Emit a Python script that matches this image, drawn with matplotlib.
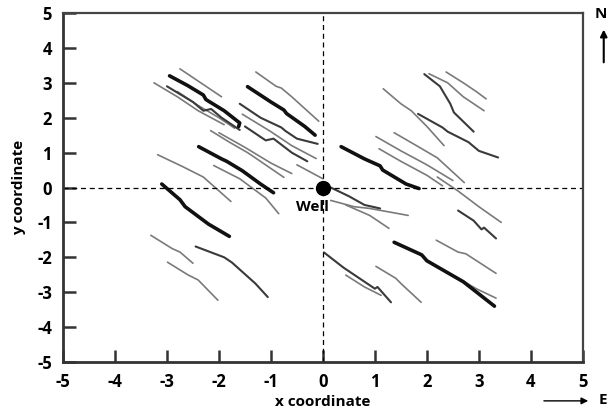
import matplotlib
matplotlib.use("Agg")
import numpy as np
from matplotlib import pyplot as plt

plt.rcParams['font.family'] = ['Open Sans', 'DejaVu Sans']
plt.rcParams['font.weight'] = 'bold'
plt.rcParams['axes.unicode_minus'] = False

# particle tracks (x, y), grouped by how dark they are
thick_tracks = [
    [(-2.95, 3.2), (-2.6, 2.92), (-2.3, 2.65), (-2.25, 2.52), (-1.9, 2.2), (-1.6, 1.85), (-1.62, 1.75)],
    [(-1.45, 2.89), (-1.0, 2.45), (-0.75, 2.22), (-0.7, 2.12), (-0.35, 1.75), (-0.15, 1.5)],
    [(-2.39, 1.17), (-1.95, 0.82), (-1.85, 0.75), (-1.55, 0.48), (-1.2, 0.1), (-0.95, -0.15)],
    [(-3.1, 0.1), (-2.75, -0.35), (-2.65, -0.55), (-2.2, -1.05), (-1.8, -1.4)],
    [(0.35, 1.17), (0.8, 0.82), (1.1, 0.62), (1.15, 0.5), (1.6, 0.1), (1.85, -0.03)],
    [(1.37, -1.57), (1.9, -1.93), (2.0, -2.1), (2.7, -2.7), (3.3, -3.4)],
]

dark_tracks = [
    [(-3.0, 2.9), (-2.5, 2.45), (-2.3, 2.2), (-2.15, 2.25), (-1.95, 2.0), (-1.6, 1.65)],
    [(-1.6, 2.4), (-1.2, 2.0), (-0.8, 1.72), (-0.72, 1.62), (-0.5, 1.4), (-0.1, 1.25)],
    [(-1.5, 1.75), (-1.1, 1.35), (-0.95, 1.4), (-0.6, 1.0), (-0.3, 0.75)],
    [(1.83, 2.11), (2.3, 1.72), (2.4, 1.6), (2.8, 1.3), (3.0, 1.05), (3.37, 0.86)],
    [(1.95, 3.25), (2.25, 2.9), (2.45, 2.4), (2.52, 2.15), (2.9, 1.6)],
    [(0.15, 0.0), (0.5, -0.25), (0.8, -0.5), (1.1, -0.6)],
    [(0.02, -1.86), (0.4, -2.3), (0.7, -2.6), (1.0, -2.9), (1.05, -2.85), (1.31, -3.29)],
    [(-2.45, -1.69), (-1.9, -2.0), (-1.75, -2.15), (-1.3, -2.75), (-1.06, -3.14)],
    [(2.6, -0.66), (2.9, -0.95), (3.05, -1.2), (3.1, -1.15), (3.33, -1.46)],
]

gray_tracks = [
    [(-2.75, 3.4), (-2.4, 3.05), (-2.2, 2.85), (-1.95, 2.6)],
    [(-3.25, 3.0), (-2.8, 2.6), (-2.4, 2.2), (-1.9, 1.8)],
    [(-2.8, 2.75), (-2.4, 2.35), (-2.0, 2.0), (-1.7, 1.7)],
    [(-1.29, 3.31), (-0.9, 2.9), (-0.8, 2.85), (-0.6, 2.6), (-0.08, 1.9)],
    [(-1.55, 2.1), (-1.0, 1.6), (-0.6, 1.2), (-0.13, 0.83)],
    [(-0.5, 0.65), (-0.25, 0.45), (0.0, 0.25)],
    [(-2.16, 1.63), (-1.8, 1.3), (-1.45, 1.0), (-1.3, 0.85), (-0.75, 0.29)],
    [(-2.0, 1.57), (-1.5, 1.15), (-1.0, 0.7), (-0.6, 0.4)],
    [(-2.1, 0.63), (-1.6, 0.25), (-1.1, -0.3), (-0.85, -0.75)],
    [(-3.18, 0.94), (-2.7, 0.6), (-2.3, 0.3), (-1.77, -0.4)],
    [(-3.31, -1.37), (-2.9, -1.75), (-2.75, -1.85), (-2.5, -2.17)],
    [(-2.99, -2.14), (-2.6, -2.5), (-2.4, -2.65), (-2.02, -3.23)],
    [(2.37, 3.31), (2.7, 3.0), (2.95, 2.75), (3.14, 2.54)],
    [(2.04, 3.26), (2.4, 3.0), (2.7, 2.6), (3.1, 2.2)],
    [(1.16, 2.83), (1.5, 2.4), (1.7, 2.2), (2.0, 1.75), (2.33, 1.2)],
    [(1.37, 1.57), (1.8, 1.2), (2.2, 0.85), (2.72, 0.14)],
    [(1.02, 1.46), (1.5, 1.05), (2.0, 0.65), (2.5, 0.2)],
    [(1.08, 1.11), (1.5, 0.75), (2.0, 0.35), (2.3, 0.05)],
    [(2.2, 0.3), (2.6, -0.1), (3.0, -0.55), (3.43, -1.0)],
    [(0.15, -0.37), (0.6, -0.55), (0.9, -0.6), (1.64, -0.8)],
    [(0.44, -0.5), (0.9, -0.8), (1.27, -1.17)],
    [(2.18, -1.51), (2.6, -1.85), (2.75, -1.9), (3.33, -2.46)],
    [(1.02, -2.26), (1.4, -2.6), (1.5, -2.75), (1.89, -3.29)],
    [(0.44, -2.51), (0.8, -2.85), (1.12, -3.09)],
    [(2.6, -2.6), (2.95, -2.9), (3.33, -3.17)],
]

ticks = [-5, -4, -3, -2, -1, 0, 1, 2, 3, 4, 5]

fig = plt.figure(figsize=(6.08, 4.12), dpi=100)
ax = fig.add_axes([0.1036, 0.1214, 0.855, 0.847])

for t in gray_tracks:
    t = np.array(t)
    ax.plot(t[:, 0], t[:, 1], color='#7a7a7a', lw=1.2, solid_capstyle='round')
for t in dark_tracks:
    t = np.array(t)
    ax.plot(t[:, 0], t[:, 1], color='#3a3a3a', lw=1.5, solid_capstyle='round')
for t in thick_tracks:
    t = np.array(t)
    ax.plot(t[:, 0], t[:, 1], color='#111111', lw=2.6, solid_capstyle='round')

ax.axhline(0, color='black', lw=0.9, ls=(0, (4, 3)))
ax.axvline(0, color='black', lw=0.9, ls=(0, (4, 3)))

ax.plot([0], [0], 'o', color='black', ms=10, zorder=5)
ax.text(-0.2, -0.55, 'Well', ha='center', va='center', fontsize=11, fontweight='bold')

ax.set_xlim(-5, 5)
ax.set_ylim(-5, 5)
ax.set_xticks(ticks)
ax.set_yticks(ticks)
ax.tick_params(direction='in', length=9, width=1.8, labelsize=12, color='#333333', pad=8)
for lab in ax.get_xticklabels() + ax.get_yticklabels():
    lab.set_fontweight('bold')
for s in ['left', 'bottom']:
    ax.spines[s].set_linewidth(2)
    ax.spines[s].set_color('#333333')
for s in ['top', 'right']:
    ax.spines[s].set_linewidth(1.6)
    ax.spines[s].set_color('#444444')

ax.set_xlabel('x coordinate', fontsize=11, fontweight='bold', labelpad=3)
ax.set_ylabel('y coordinate', fontsize=11, fontweight='bold', labelpad=8)

# compass arrows outside the plot
fig.text(0.998, 0.965, 'N', ha='right', va='center', fontsize=11, fontweight='bold')
ax.annotate('', xy=(0.993, 0.935), xytext=(0.993, 0.842), xycoords='figure fraction',
            arrowprops=dict(arrowstyle='-|>', color='black', lw=1.5, mutation_scale=10))
fig.text(0.998, 0.028, 'E', ha='right', va='center', fontsize=11, fontweight='bold')
ax.annotate('', xy=(0.972, 0.027), xytext=(0.89, 0.027), xycoords='figure fraction',
            arrowprops=dict(arrowstyle='-|>', color='black', lw=1.0, mutation_scale=10))

fig.savefig('out.png', dpi=100)
